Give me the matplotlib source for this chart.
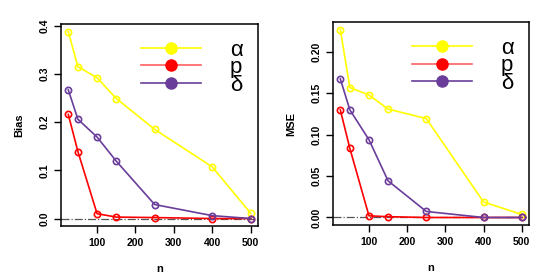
import matplotlib
matplotlib.use("Agg")
import matplotlib.pyplot as plt
from matplotlib.lines import Line2D

n = [25, 50, 100, 150, 250, 400, 500]

bias_alpha = [0.388, 0.315, 0.292, 0.249, 0.185, 0.107, 0.011]
bias_p = [0.216, 0.139, 0.010, 0.003, 0.002, 0.000, 0.000]
bias_delta = [0.267, 0.206, 0.169, 0.119, 0.029, 0.006, 0.000]

mse_alpha = [0.227, 0.157, 0.148, 0.131, 0.1195, 0.0187, 0.0037]
mse_p = [0.130, 0.0835, 0.002, 0.001, 0.000, 0.000, 0.000]
mse_delta = [0.1675, 0.130, 0.094, 0.0443, 0.0073, 0.000, 0.000]

labels = ["\u03b1", "p", "\u03b4"]
colors = ["#ffff00", "#ff0000", "#6a3d9a"]
leg_line_colors = ["#ffff00", "#ff6060", "#6a3d9a"]

plt.rcParams['font.family'] = ['Liberation Sans', 'DejaVu Sans']

fig = plt.figure(figsize=(5.56, 2.78), dpi=100)
ax1 = fig.add_axes([0.1097, 0.187, 0.3543, 0.7266])
ax2 = fig.add_axes([0.599, 0.1906, 0.3525, 0.730])


def panel(ax, series, ylabel, yticks, yfmt):
    for vals, c in zip(series, colors):
        ax.plot(n, vals, color=c, lw=1.2, marker='o', ms=4.5, mfc='none', mec=c, mew=1.2)
    ax.axhline(0, color='#555555', lw=0.9, ls='-.', zorder=0)
    top = max(max(s) for s in series)
    pad = 0.04 * top
    ax.set_ylim(-pad, top + pad)
    ax.set_xlim(25 - 0.04 * 475, 500 + 0.04 * 475)
    ax.set_xticks([100, 200, 300, 400, 500])
    ax.set_yticks(yticks)
    ax.set_yticklabels([yfmt % v for v in yticks], rotation=90, va='center')
    ax.tick_params(labelsize=7.5, length=5, width=1, direction='out')
    for lab in ax.get_xticklabels() + ax.get_yticklabels():
        lab.set_fontweight('bold')
    for sp in ax.spines.values():
        sp.set_linewidth(1.1)
    ax.set_xlabel('n', fontsize=8, fontweight='bold', labelpad=12)
    ax.set_ylabel(ylabel, fontsize=8, fontweight='bold', labelpad=11)

    handles = [Line2D([], [], color=lc, lw=1.2, marker='o', ms=8, mfc=c, mec=c)
               for lc, c in zip(leg_line_colors, colors)]
    ax.legend(handles, labels, loc='upper right', bbox_to_anchor=(1.0, 1.0),
              frameon=False, fontsize=16, handlelength=2.7, handletextpad=1.3,
              labelspacing=-0.15, borderaxespad=0.3)


panel(ax1, [bias_alpha, bias_p, bias_delta], 'Bias',
      [0.0, 0.1, 0.2, 0.3, 0.4], '%.1f')
panel(ax2, [mse_alpha, mse_p, mse_delta], 'MSE',
      [0.0, 0.05, 0.10, 0.15, 0.20], '%.2f')

fig.savefig('out.png', dpi=100)
